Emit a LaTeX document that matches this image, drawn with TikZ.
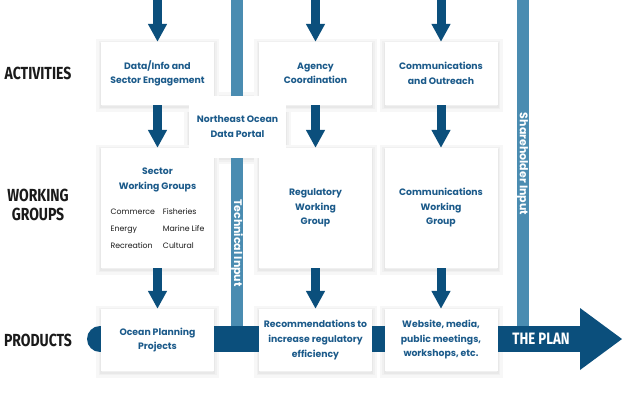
\documentclass[tikz,border=0pt]{standalone}
\usepackage{fontspec}
\usepackage{graphicx}
\setmainfont{Poppins}
\newfontfamily\labelfont{Fira Sans}
\usetikzlibrary{arrows.meta}
\definecolor{dblue}{HTML}{0B4F7C}
\definecolor{tblue}{HTML}{1B5A8A}
\definecolor{lblue}{HTML}{4A8CB1}
\definecolor{ink}{HTML}{1A1A1A}
\begin{document}
\begin{tikzpicture}[x=1pt,y=-1pt,
  box/.style={fill=white, minimum width=113pt, align=center, text=tblue,
    font=\bfseries\fontsize{9.3}{14.5}\selectfont, inner sep=0pt},
  halo/.style={preaction={draw=black!3, line width=10pt},
    preaction={draw=black!6, line width=5pt},
    preaction={draw=black!9, line width=2pt}},
  actbox/.style={box, minimum height=63pt},
  wgbox/.style={box, minimum height=120pt},
  prbox/.style={box, minimum height=62pt},
  flow/.style={draw=dblue, line width=9pt, -{Triangle[width=18pt,length=18pt]}},
  inbar/.style={draw=lblue, line width=12pt},
  vtext/.style={text=white, font=\bfseries\fontsize{11}{12}\selectfont, rotate=-90, inner sep=0pt},
  rowlabel/.style={text=ink, font=\labelfont\bfseries\fontsize{17.5}{19}\selectfont, align=center, inner sep=0pt}
]
\fill[white] (0,0) rectangle (624,400);
\path[use as bounding box] (0,0) rectangle (624,400);

% soft shadows of the boxes (centre x, centre y, half width, half height)
\foreach \cx/\cy/\hw/\hh in {237.5/126.5/48.5/31,
    157.5/73.5/56.5/31.5, 315.5/73.5/56.5/31.5, 441/73.5/56.5/31.5,
    157.5/208/56.5/60, 315.5/208/56.5/60, 441/208/56.5/60,
    157.5/340/56.5/31, 315.5/340/56.5/31, 441/340/56.5/31}
  \path[halo] (\cx-\hw,\cy-\hh+1.5) rectangle (\cx+\hw,\cy+\hh+1.5);

% input bars and product arrow
\coordinate (tTop) at (237,0);
\coordinate (tBot) at (237,330);
\coordinate (sTop) at (522.5,0);
\coordinate (sBot) at (522.5,330);
\coordinate (pL) at (100,339);
\coordinate (pR) at (580,339);
\coordinate (pTip) at (622,339);
\draw[inbar] (tTop) -- (tBot);
\draw[inbar] (sTop) -- (sBot);
\draw[draw=dblue, line width=26pt, line cap=round] (pL) -- (pR);
\fill[dblue] (580,308) -- (pTip) -- (580,370) -- cycle;
\node[vtext] (tech) at (237,243) {Technical Input};
\node[vtext] (stake) at (522.5,164) {Shareholder Input};
\node[text=white, inner sep=0pt, font=\labelfont\bfseries\fontsize{16.5}{18}\selectfont] (plan) at (541,339) {\scalebox{0.8}[1]{THE PLAN}};

% portal box (under the others)
\node[box, minimum width=97pt, minimum height=62pt] (portal) at (237.5,126.5) {Northeast Ocean\\Data Portal};

% activities
\node[actbox] (act1) at (157.5,73.5) {Data/Info and\\Sector Engagement};
\node[actbox] (act2) at (315.5,73.5) {Agency\\Coordination};
\node[actbox] (act3) at (441,73.5) {Communications\\and Outreach};

% working groups
\node[wgbox] (wg1) at (157.5,208) {};
\node[text=tblue, align=center, inner sep=0pt, font=\bfseries\fontsize{9.3}{15}\selectfont] (wg1t) at (157.5,180) {Sector\\Working Groups};
\node[text=ink, inner sep=0pt, font=\fontsize{7.8}{18}\selectfont] (wg1l) at (157.5,228)
  {\begin{tabular}{@{}l@{\hspace{8pt}}l@{}}Commerce & Fisheries\\[-1pt] Energy & Marine Life\\[-1pt] Recreation & Cultural\end{tabular}};
\node[wgbox] (wg2) at (315.5,208) {Regulatory\\Working\\Group};
\node[wgbox] (wg3) at (441,208) {Communications\\Working\\Group};

% products
\node[prbox] (pr1) at (157.5,340) {Ocean Planning\\Projects};
\node[prbox] (pr2) at (315.5,340) {Recommendations to\\increase regulatory\\efficiency};
\node[prbox] (pr3) at (441,340) {Website, media,\\public meetings,\\workshops, etc.};

% row labels
\node[rowlabel] (lab1) at (38,73) {\scalebox{0.8}[1]{ACTIVITIES}};
\node[rowlabel] (lab2) at (38,205) {\scalebox{0.8}[1]{WORKING}\\\scalebox{0.8}[1]{GROUPS}};
\node[rowlabel] (lab3) at (38,340) {\scalebox{0.8}[1]{PRODUCTS}};

% flow arrows
\coordinate (in1) at (157.5,0);
\coordinate (in2) at (315.5,0);
\coordinate (in3) at (441,0);
\draw[flow] (in1) -- (act1.north);
\draw[flow] (in2) -- (act2.north);
\draw[flow] (in3) -- (act3.north);
\draw[flow] (act1.south) -- (wg1.north);
\draw[flow] (act2.south) -- (wg2.north);
\draw[flow] (act3.south) -- (wg3.north);
\draw[flow] (wg1.south) -- (pr1.north);
\draw[flow] (wg2.south) -- (pr2.north);
\draw[flow] (wg3.south) -- (pr3.north);
\end{tikzpicture}
\end{document}
